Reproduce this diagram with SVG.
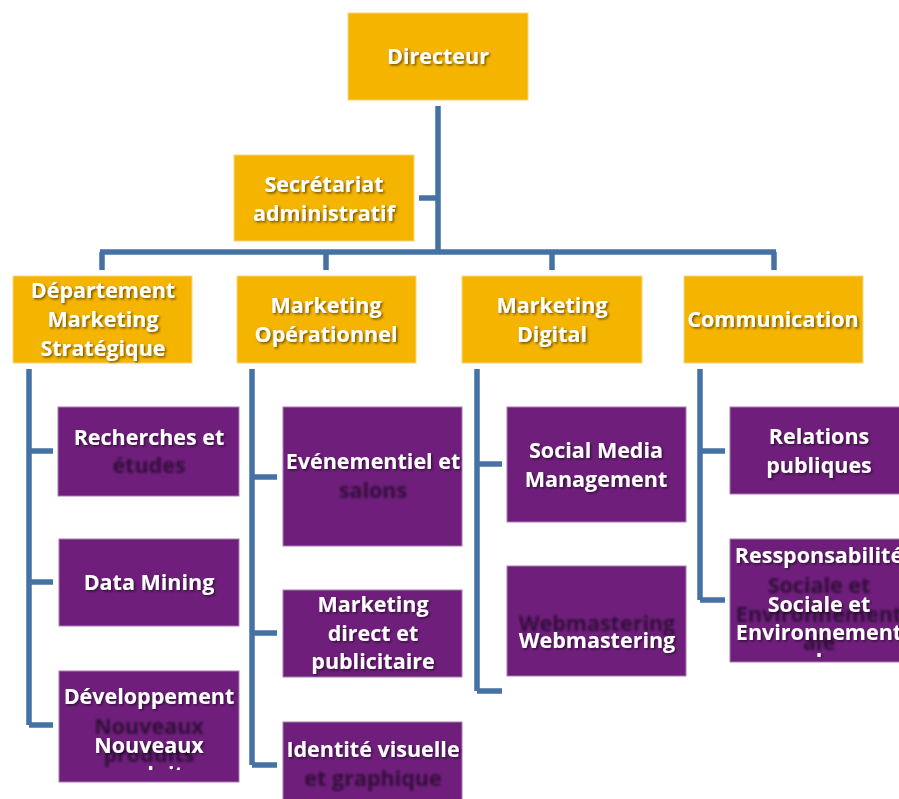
<svg xmlns="http://www.w3.org/2000/svg" width="899" height="799" viewBox="0 0 899 799">
  <defs>
    <style>
      .head { fill: #F5B400; stroke: #F8D77A; stroke-width: 1; }
      .unit { fill: #6F1F7B; stroke: #A77CB0; stroke-width: 1; }
      .lbl { font-family: "Open Sans", Lato, sans-serif; font-weight: bold; font-size: 21.5px; text-anchor: middle; fill: #FFFFFF; filter: url(#shadow); }
      .ghost { font-family: "Open Sans", Lato, sans-serif; font-weight: bold; font-size: 21.5px; text-anchor: middle; fill: #33103B; filter: url(#soft); }
      .wire { fill: none; stroke: #4571A5; stroke-width: 5.5; }
    </style>
    <filter id="shadow" x="-10%" y="-30%" width="120%" height="160%">
      <feDropShadow dx="1.5" dy="1.5" stdDeviation="0.9" flood-color="#000000" flood-opacity="0.55"/>
    </filter>
    <filter id="soft" x="-10%" y="-30%" width="120%" height="160%">
      <feGaussianBlur stdDeviation="0.8"/>
    </filter>
    <!-- text frames that cut off overflowing lines -->
    <clipPath id="clipRech"><rect x="58" y="407" width="181" height="76"/></clipPath>
    <clipPath id="clipDev"><rect x="59" y="671" width="181" height="99"/></clipPath>
    <clipPath id="clipEven"><rect x="283" y="407" width="179" height="100"/></clipPath>
    <clipPath id="clipIdent"><rect x="283" y="722" width="179" height="77"/></clipPath>
    <clipPath id="clipResp"><rect x="730" y="539" width="169" height="118"/></clipPath>
  </defs>

  <!-- connectors -->
  <g id="connectors">
    <path class="wire" d="M438 106 V252"/>
    <path class="wire" d="M419 198 H438"/>
    <path class="wire" d="M100 252 H776"/>
    <path class="wire" d="M102 252 V270 M326 252 V270 M552 252 V270 M774 252 V270"/>
    <!-- Département Marketing Stratégique -->
    <path class="wire" d="M29 369 V725 M29 451 H53 M29 582 H53 M29 725 H53"/>
    <!-- Marketing Opérationnel -->
    <path class="wire" d="M252 369 V765 M252 477 H277 M252 633 H277 M252 765 H277"/>
    <!-- Marketing Digital -->
    <path class="wire" d="M477 369 V691 M477 464 H502 M477 691 H502"/>
    <!-- Communication -->
    <path class="wire" d="M700 369 V600 M700 451 H725 M700 600 H725"/>
  </g>

  <g id="directeur">
    <rect class="head" x="348" y="13" width="180" height="87"/>
    <text class="lbl" x="438" y="64">Directeur</text>
  </g>

  <g id="secretariat">
    <rect class="head" x="234" y="155" width="180" height="86"/>
    <text class="lbl" x="324" y="192">Secrétariat</text>
    <text class="lbl" x="324" y="221">administratif</text>
  </g>

  <g id="dept-strategique">
    <rect class="head" x="13" y="276" width="179" height="87"/>
    <text class="lbl" x="103" y="298">Département</text>
    <text class="lbl" x="103" y="327">Marketing</text>
    <text class="lbl" x="103" y="356">Stratégique</text>
  </g>

  <g id="marketing-operationnel">
    <rect class="head" x="237" y="276" width="179" height="87"/>
    <text class="lbl" x="326" y="313">Marketing</text>
    <text class="lbl" x="326" y="342">Opérationnel</text>
  </g>

  <g id="marketing-digital">
    <rect class="head" x="462" y="276" width="180" height="87"/>
    <text class="lbl" x="552" y="313">Marketing</text>
    <text class="lbl" x="552" y="342">Digital</text>
  </g>

  <g id="communication">
    <rect class="head" x="684" y="276" width="179" height="87"/>
    <text class="lbl" x="773" y="327">Communication</text>
  </g>

  <g id="recherches">
    <rect class="unit" x="58" y="407" width="181" height="89"/>
    <g clip-path="url(#clipRech)">
      <text class="lbl" x="149" y="445">Recherches et</text>
      <text class="ghost" x="149" y="473">études</text>
      <text class="lbl" x="149" y="501">études</text>
    </g>
  </g>

  <g id="data-mining">
    <rect class="unit" x="59" y="539" width="180" height="87"/>
    <text class="lbl" x="149" y="590">Data Mining</text>
  </g>

  <g id="developpement">
    <rect class="unit" x="59" y="671" width="180" height="111"/>
    <g clip-path="url(#clipDev)">
      <text class="lbl" x="149" y="704">Développement</text>
      <text class="ghost" x="149" y="734">Nouveaux</text>
      <text class="ghost" x="149" y="762">produits</text>
      <text class="lbl" x="149" y="753">Nouveaux</text>
      <text class="lbl" x="149" y="782">produits</text>
    </g>
  </g>

  <g id="evenementiel">
    <rect class="unit" x="283" y="407" width="179" height="139"/>
    <g clip-path="url(#clipEven)">
      <text class="lbl" x="373" y="469">Evénementiel et</text>
      <text class="ghost" x="373" y="498">salons</text>
      <text class="lbl" x="373" y="527">salons</text>
    </g>
  </g>

  <g id="marketing-direct">
    <rect class="unit" x="283" y="590" width="179" height="87"/>
    <text class="lbl" x="373" y="612">Marketing</text>
    <text class="lbl" x="373" y="641">direct et</text>
    <text class="lbl" x="373" y="669">publicitaire</text>
  </g>

  <g id="identite-visuelle">
    <rect class="unit" x="283" y="722" width="179" height="80"/>
    <g clip-path="url(#clipIdent)">
      <text class="lbl" x="373" y="757">Identité visuelle</text>
      <text class="ghost" x="373" y="786">et graphique</text>
      <text class="lbl" x="373" y="815">et graphique</text>
    </g>
  </g>

  <g id="social-media">
    <rect class="unit" x="507" y="407" width="179" height="115"/>
    <text class="lbl" x="596" y="458">Social Media</text>
    <text class="lbl" x="596" y="487">Management</text>
  </g>

  <g id="webmastering">
    <rect class="unit" x="507" y="566" width="179" height="110"/>
    <text class="ghost" x="597" y="631">Webmastering</text>
    <text class="lbl" x="597" y="648">Webmastering</text>
  </g>

  <g id="relations-publiques">
    <rect class="unit" x="730" y="407" width="175" height="87"/>
    <text class="lbl" x="819" y="444">Relations</text>
    <text class="lbl" x="819" y="473">publiques</text>
  </g>

  <g id="responsabilite">
    <rect class="unit" x="730" y="539" width="175" height="123"/>
    <g clip-path="url(#clipResp)">
      <text class="lbl" x="819" y="563">Ressponsabilité</text>
      <text class="ghost" x="819" y="593">Sociale et</text>
      <text class="ghost" x="819" y="622">Environnement</text>
      <text class="ghost" x="819" y="650">ale</text>
      <text class="lbl" x="819" y="612">Sociale et</text>
      <text class="lbl" x="819" y="640">Environnement</text>
      <text class="lbl" x="819" y="669">ale</text>
    </g>
  </g>
</svg>
